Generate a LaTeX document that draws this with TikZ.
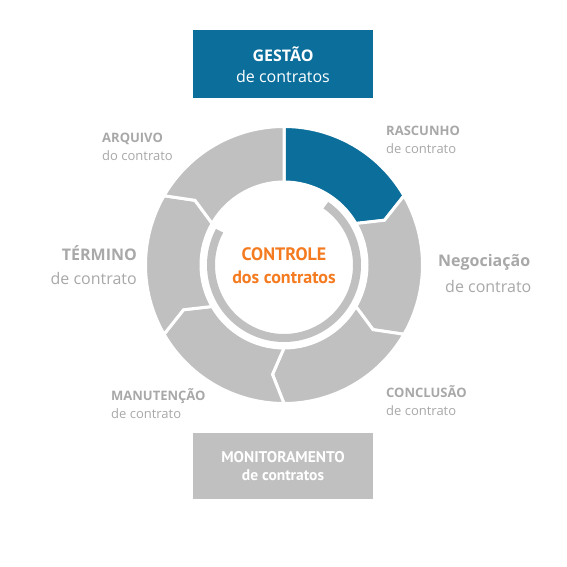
\documentclass[tikz,border=0pt]{standalone}
\usepackage{fontspec}
\setmainfont{Open Sans}
\newfontfamily\myriadlike{PT Sans}
\definecolor{segblue}{RGB}{11,110,155}
\definecolor{seggray}{RGB}{192,192,192}
\definecolor{labelgray}{RGB}{168,168,168}
\definecolor{ctrlorange}{RGB}{244,123,32}

\begin{document}
\begin{tikzpicture}[x=1pt, y=1pt,
  seg/.style={draw=white, line width=3pt, line join=miter},
  lbl/.style={text=labelgray, font=\fontsize{13}{18}\selectfont, inner sep=0pt},
  biglbl/.style={text=labelgray, font=\fontsize{16}{24}\selectfont, inner sep=0pt},
  box/.style={minimum width=180pt, minimum height=68pt, inner sep=0pt, text=white}]

  \path[use as bounding box] (0,0) rectangle (567,567);

  \begin{scope}[shift={(284,302)}]
    \fill[seg, fill=segblue] (90:138.5pt) arc[start angle=90, end angle=30, radius=138.5pt]
      -- (24:110pt) -- (30:83pt) arc[start angle=30, end angle=90, radius=83pt] -- cycle;
    \fill[seg, fill=seggray] (30:138.5pt) arc[start angle=30, end angle=-30, radius=138.5pt]
      -- (-36:110pt) -- (-30:83pt) arc[start angle=-30, end angle=30, radius=83pt] -- (24:110pt) -- cycle;
    \fill[seg, fill=seggray] (-30:138.5pt) arc[start angle=-30, end angle=-90, radius=138.5pt]
      -- (-96:110pt) -- (-90:83pt) arc[start angle=-90, end angle=-30, radius=83pt] -- (-36:110pt) -- cycle;
    \fill[seg, fill=seggray] (-90:138.5pt) arc[start angle=-90, end angle=-150, radius=138.5pt]
      -- (-156:110pt) -- (-150:83pt) arc[start angle=-150, end angle=-90, radius=83pt] -- (-96:110pt) -- cycle;
    \fill[seg, fill=seggray] (210:138.5pt) arc[start angle=210, end angle=150, radius=138.5pt]
      -- (144:110pt) -- (150:83pt) arc[start angle=150, end angle=210, radius=83pt] -- (204:110pt) -- cycle;
    \fill[seg, fill=seggray] (150:138.5pt) arc[start angle=150, end angle=90, radius=138.5pt]
      -- (90:83pt) arc[start angle=90, end angle=150, radius=83pt] -- (144:110pt) -- cycle;
    \draw[seggray, line width=8pt] (55:73pt) arc[start angle=55, end angle=-208, radius=73pt];
  \end{scope}

  \node[box, fill=segblue, align=center, font=\fontsize{16}{21}\selectfont] (gestao) at (283,502.5)
    {\textbf{GESTÃO}\\de contratos};
  \node[box, fill=seggray, minimum height=66pt, align=center, font=\myriadlike\bfseries\fontsize{15.5}{18}\selectfont] (monitoramento) at (283,101)
    {MONITORAMENTO\\de contratos};
  \node[text=ctrlorange, align=center, font=\myriadlike\bfseries\fontsize{18}{23}\selectfont] (controle) at (284,301.5)
    {CONTROLE\\dos contratos};

  \node[lbl, anchor=west, align=left] (rascunho) at (386,427) {\textbf{RASCUNHO}\\de contrato};
  \node[biglbl, anchor=west] (negociacao) at (438,305) {\textbf{Negociação}};
  \node[biglbl, anchor=west] (negociacao2) at (445,280) {de contrato};
  \node[lbl, anchor=west, align=left] (conclusao) at (386,166.5) {\textbf{CONCLUSÃO}\\de contrato};
  \node[lbl, anchor=west, align=left] (manutencao) at (111,163) {\textbf{MANUTENÇÃO}\\de contrato};
  \node[biglbl, anchor=east, align=right] (termino) at (137,302) {\textbf{TÉRMINO}\\de contrato};
  \node[lbl, anchor=west, align=left] (arquivo) at (102,420.5) {\textbf{ARQUIVO}\\do contrato};

\end{tikzpicture}
\end{document}
